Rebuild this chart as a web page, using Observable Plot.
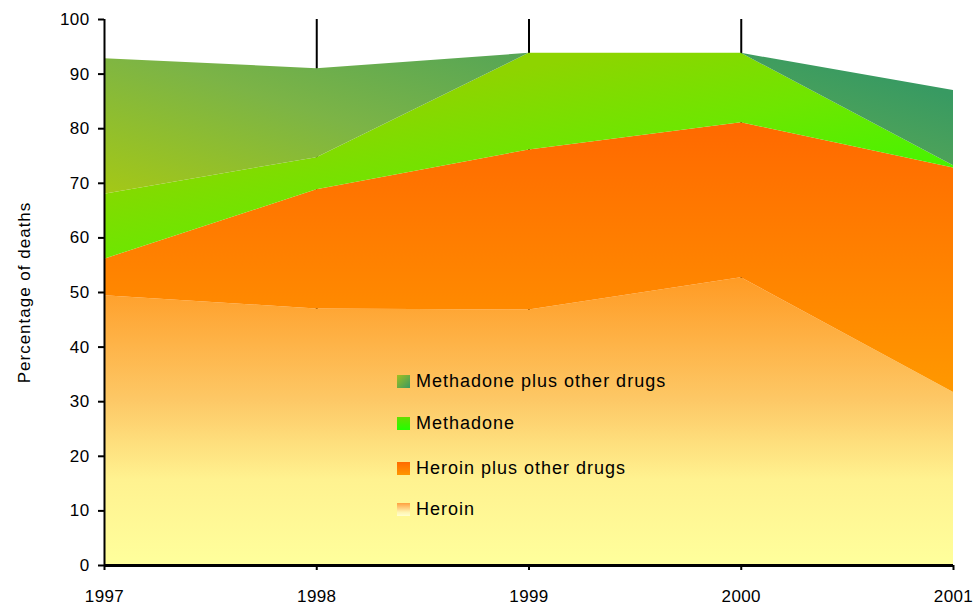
<!DOCTYPE html>
<html><head><meta charset="utf-8">
<script src="https://cdn.jsdelivr.net/npm/d3@7"></script>
<script src="https://cdn.jsdelivr.net/npm/@observablehq/plot@0.6"></script>
<style>
body{margin:0;background:#fff;font-family:Arial,"Liberation Sans",sans-serif}
#wrap{position:relative;width:975px;height:608px}
.lg{position:absolute;left:397px;height:20px;line-height:20px;font-size:18px;letter-spacing:1px;color:#000;white-space:nowrap}
.sw{display:inline-block;width:13px;height:13px;vertical-align:-1px;margin-right:6px}
</style>
</head><body><div id="wrap"></div>
<script>
const years = [1997, 1998, 1999, 2000, 2001];
const seriesNames = ["Heroin", "Heroin plus other drugs", "Methadone", "Methadone plus other drugs"];
const heroin = [49.4, 47.0, 46.8, 52.7, 31.7];
const heroinPlus = [6.7, 21.8, 29.3, 28.4, 41.1];
const methadone = [11.9, 5.9, 17.7, 12.7, 0.4];
const methadonePlus = [24.8, 16.3, 0, 0, 13.8];
const yTicks = [0, 10, 20, 30, 40, 50, 60, 70, 80, 90, 100];
const gridYears = [1998, 1999, 2000];
const legendOrder = ["Methadone plus other drugs", "Methadone", "Heroin plus other drugs", "Heroin"];

const valuesBySeries = [heroin, heroinPlus, methadone, methadonePlus];
const rows = [];
seriesNames.forEach((s, i) => years.forEach((yr, j) => rows.push({series: s, year: yr, value: valuesBySeries[i][j]})));

const plot = Plot.plot({
  width: 975, height: 608,
  marginLeft: 104, marginRight: 22, marginTop: 19, marginBottom: 43,
  x: {domain: [1997, 2001]},
  y: {domain: [0, 100]},
  color: {domain: seriesNames, range: seriesNames.map((_, i) => `url(#g${i})`)},
  style: {fontFamily: "Arial, 'Liberation Sans', sans-serif", fontSize: "17px", color: "#000", background: "transparent"},
  marks: [
    Plot.ruleX(gridYears, {y1: 0, y2: 100, stroke: "#000", strokeWidth: 2}),
    Plot.areaY(rows, {x: "year", y: "value", z: "series", fill: "series", order: seriesNames}),
    Plot.axisX({ticks: years, tickFormat: d => String(d), tickSize: 5, tickPadding: 19, strokeWidth: 2, fontSize: 17, label: null}),
    Plot.axisY({ticks: yTicks, tickSize: 6, tickPadding: 9, strokeWidth: 2, fontSize: 17,
      label: "Percentage of deaths", labelAnchor: "center", labelOffset: 87, labelArrow: "none"}),
    Plot.ruleX([1997], {y1: 0, y2: 100, stroke: "#000", strokeWidth: 2}),
    Plot.ruleY([0], {stroke: "#000", strokeWidth: 3})
  ]
});

const xs = plot.scale("x"), ys = plot.scale("y");
const ns = "http://www.w3.org/2000/svg";
const defs = document.createElementNS(ns, "defs");
function grad(id, x1, y1, x2, y2, stops) {
  const g = document.createElementNS(ns, "linearGradient");
  g.setAttribute("id", id);
  g.setAttribute("gradientUnits", "userSpaceOnUse");
  g.setAttribute("x1", x1); g.setAttribute("y1", y1);
  g.setAttribute("x2", x2); g.setAttribute("y2", y2);
  for (const [o, c] of stops) {
    const s = document.createElementNS(ns, "stop");
    s.setAttribute("offset", o); s.setAttribute("stop-color", c);
    g.appendChild(s);
  }
  defs.appendChild(g);
}
const X0 = xs.apply(1997);
grad("g0", X0, ys.apply(0), X0, ys.apply(52),
  [[0, "#ffff9c"], [0.3, "#fff290"], [0.58, "#fdc866"], [1, "#ff9c26"]]);
grad("g1", X0, ys.apply(82), X0, ys.apply(32),
  [[0, "#ff6800"], [1, "#ff9800"]]);
grad("g2", xs.apply(1999.5), ys.apply(95.5), xs.apply(1999.5) + 41, ys.apply(95.5) + 183,
  [[0, "#8ed400"], [0.5, "#6ee600"], [1, "#46f400"]]);
grad("g3", X0, ys.apply(68), X0 + 110, ys.apply(68) - 338,
  [[0, "#a4c816"], [0.4, "#7cb446"], [1, "#389a62"]]);
plot.insertBefore(defs, plot.firstChild);

plot.querySelectorAll("text").forEach(t => t.setAttribute("letter-spacing", "0.4"));
const yl = plot.querySelector('[aria-label="y-axis label"] text');
if (yl) { yl.setAttribute("letter-spacing", "1"); yl.setAttribute("font-size", "17"); }

const wrap = document.getElementById("wrap");
wrap.appendChild(plot);
plot.style.position = "absolute"; plot.style.left = "0"; plot.style.top = "0";

const swatchCss = {
  "Methadone plus other drugs": "linear-gradient(135deg,#a0c020,#3a9a62)",
  "Methadone": "linear-gradient(180deg,#66dd00,#22ff00)",
  "Heroin plus other drugs": "linear-gradient(180deg,#ff6a00,#ff9600)",
  "Heroin": "linear-gradient(180deg,#ffa040,#ffd080 40%,#fff4b0 70%,#ffffd0)"
};
const legendCenters = [381, 423, 468, 509];
legendOrder.forEach((name, i) => {
  const d = document.createElement("div");
  d.className = "lg";
  d.style.top = (legendCenters[i] - 10) + "px";
  const sw = document.createElement("span");
  sw.className = "sw";
  sw.style.background = swatchCss[name];
  d.appendChild(sw);
  d.appendChild(document.createTextNode(name));
  wrap.appendChild(d);
});
</script>
</body></html>
